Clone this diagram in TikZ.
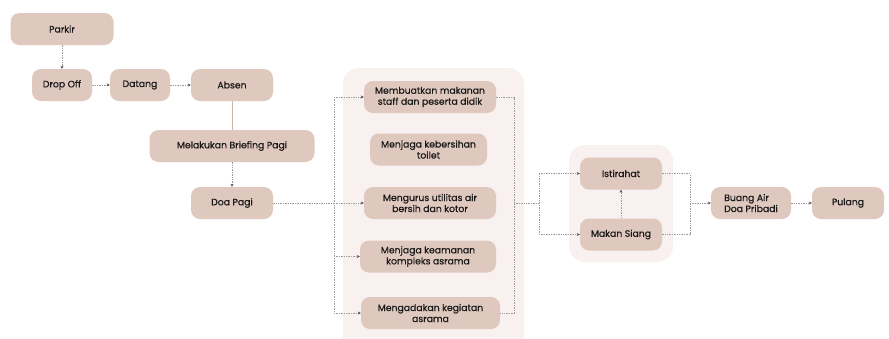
\documentclass[tikz,border=0pt]{standalone}
\usepackage{fontspec}
\setmainfont{Poppins}[FakeBold=0.6]
\usetikzlibrary{arrows.meta}
\definecolor{boxc}{HTML}{DFC9BF}
\definecolor{groupc}{HTML}{F8F1EF}
\definecolor{linec}{HTML}{9C9C9C}
\definecolor{tipc}{HTML}{555555}
\tikzset{
  stepbox/.style={draw=none, fill=boxc, rounded corners=9pt, minimum height=32pt,
    align=center, inner sep=2pt, font=\fontsize{9.3}{11}\selectfont, text=black!90},
  groupbg/.style={fill=groupc, draw=none, rounded corners=16pt},
  flowline/.style={draw=linec, line width=0.8pt, dash pattern=on 1.4pt off 1pt},
  flow/.style={flowline, -{Stealth[length=3pt,width=3pt,color=tipc]}},
  plainlink/.style={draw=boxc!90!black, line width=0.6pt}
}
\begin{document}
\begin{tikzpicture}[x=1pt,y=-1pt]
\useasboundingbox (0,0) rectangle (889,338);
\fill[white] (0,0) rectangle (889,338);

% group backgrounds
\path[groupbg] (343,68) rectangle (524,352);
\path[groupbg] (569,145) rectangle (673,262);

% arrival
\node[stepbox, minimum width=103pt] (parkir) at (62,29) {Parkir};
\node[stepbox, minimum width=60pt] (drop) at (62,85) {Drop Off};
\node[stepbox, minimum width=60pt] (datang) at (140,85) {Datang};
\node[stepbox, minimum width=82pt] (absen) at (232,85) {Absen};
\node[stepbox, minimum width=165pt] (brief) at (232,146) {Melakukan Briefing Pagi};
\node[stepbox, minimum width=82pt] (doa) at (232,203) {Doa Pagi};

% morning duties
\node[stepbox, minimum width=132pt] (m1) at (430,97) {Membuatkan makanan\\staff dan peserta didik};
\node[stepbox, minimum width=117pt] (m2) at (428.5,149.5) {Menjaga kebersihan\\toilet};
\node[stepbox, minimum width=132pt] (m3) at (430,203) {Mengurus utilitas air\\bersih dan kotor};
\node[stepbox, minimum width=136pt] (m4) at (428,256.5) {Menjaga keamanan\\kompleks asrama};
\node[stepbox, minimum width=139pt] (m5) at (430.5,313) {Mengadakan kegiatan\\asrama};

% midday
\node[stepbox, minimum width=82pt] (ist) at (621,173.5) {Istirahat};
\node[stepbox, minimum width=82pt] (makan) at (621,234.5) {Makan Siang};

% closing
\node[stepbox, minimum width=80pt, align=left] (buang) at (751,203) {Buang Air\\Doa Pribadi};
\node[stepbox, minimum width=72pt] (pulang) at (848,203) {Pulang};

% bus junctions
\coordinate (lt) at (334,97);
\coordinate (lm) at (334,203);
\coordinate (lk) at (334,256.5);
\coordinate (lb) at (334,313);
\coordinate (rt) at (514,97);
\coordinate (rm) at (514,203);
\coordinate (rb) at (514,313);
\coordinate (st) at (539,173.5);
\coordinate (sm) at (539,203);
\coordinate (sb) at (539,234.5);
\coordinate (et) at (690,173.5);
\coordinate (em) at (690,203);
\coordinate (eb) at (690,234.5);

% connectors
\draw[flow] (parkir.south) -- (drop.north);
\draw[flow] (drop.east) -- (datang.west);
\draw[flow] (datang.east) -- (absen.west);
\draw[plainlink] (absen.south) -- (brief.north);
\draw[flow] (brief.south) -- (doa.north);

\draw[flowline] (doa.east) -- (lm);
\draw[flowline] (lt) -- (lb);
\draw[flow] (lt) -- (m1.west);
\draw[flow] (lm) -- (m3.west);
\draw[flow] (lk) -- (m4.west);
\draw[flow] (lb) -- (m5.west);

\draw[flowline] (m1.east) -- (rt) -- (rb) -- (m5.east);
\draw[flowline] (rm) -- (sm);
\draw[flowline] (st) -- (sb);
\draw[flow] (st) -- (ist.west);
\draw[flow] (sb) -- (makan.west);
\draw[flow] (makan.north) -- (ist.south);

\draw[flowline] (ist.east) -- (et) -- (eb) -- (makan.east);
\draw[flow] (em) -- (buang.west);
\draw[flow] (buang.east) -- (pulang.west);
\end{tikzpicture}
\end{document}
